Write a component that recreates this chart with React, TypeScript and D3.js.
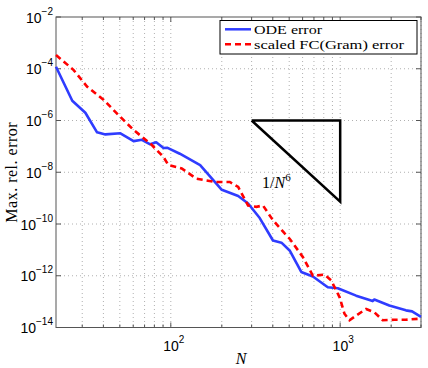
import React, { useEffect, useRef } from "react";
import { select, scaleLog, line } from "d3";

// ODE error curve
const odeN = [21, 26.2, 31.3, 36.7, 41.1, 50.4, 60.3, 67.5, 75.6, 82, 90.5, 95, 113, 149, 200, 250, 286, 335, 401, 450, 503, 589, 690, 845, 968, 1242, 1555, 1590, 1950, 2443, 2657, 3000];
const odeErr = [1.2e-4, 5.8e-6, 2.0e-6, 3.5e-7, 2.9e-7, 3.2e-7, 1.6e-7, 1.8e-7, 1.2e-7, 1.45e-7, 8.7e-8, 8.9e-8, 5.2e-8, 1.9e-8, 2.1e-9, 1.2e-9, 6.2e-10, 1.7e-10, 2.3e-11, 1.9e-11, 9.5e-12, 1.4e-12, 9.3e-13, 3.6e-13, 3.3e-13, 1.7e-13, 1.05e-13, 1.2e-13, 7.1e-14, 4.6e-14, 4.2e-14, 2.6e-14];

// scaled FC(Gram) error curve
const fcN = [21, 26.7, 32.1, 40.2, 49.2, 60.3, 75.6, 90.5, 96.8, 116, 142, 182, 223, 250, 286, 320, 350, 401, 470, 503, 603, 690, 809, 885, 991, 1060, 1135, 1242, 1422, 1590, 1783, 2090, 2443, 3000];
const fcErr = [3.4e-4, 8.9e-5, 2.0e-5, 6.2e-6, 1.6e-6, 4.3e-7, 1.3e-7, 3.9e-8, 1.9e-8, 1.4e-8, 5.6e-9, 4.2e-9, 4.2e-9, 2.7e-9, 5.2e-10, 4.6e-10, 5.2e-10, 1.4e-10, 4.3e-11, 2.7e-11, 5.2e-12, 1.0e-12, 1.1e-12, 6.6e-13, 1.5e-13, 3.4e-14, 1.9e-14, 2.9e-14, 5.2e-14, 3.9e-14, 1.9e-14, 2.0e-14, 2.0e-14, 2.2e-14];

// slope triangle 1/N^6
const triN = [300, 1000];
const triErr = [1e-6, 7.29e-10];

const xMajor = [100, 1000];
const xMajorExp = ["2", "3"];
const xMinor = [30, 40, 50, 60, 70, 80, 90, 200, 300, 400, 500, 600, 700, 800, 900, 2000, 3000];
const yMajor = [1e-2, 1e-4, 1e-6, 1e-8, 1e-10, 1e-12, 1e-14];
const yMajorExp = ["\u22122", "\u22124", "\u22126", "\u22128", "\u221210", "\u221212", "\u221214"];

const legendLabels = ["ODE error", "scaled FC(Gram) error"];
const legendWidths = [68, 150];

export default function App() {
  const svgRef = useRef(null);

  useEffect(() => {
    const svg = select(svgRef.current);
    svg.selectAll("*").remove();

    const left = 56, right = 421, top = 17, bottom = 327.5;
    const x = scaleLog().domain([21, 3000]).range([left, right]);
    const y = scaleLog().domain([1e-14, 1e-2]).range([bottom, top]);

    const axisColor = "#555";
    const gridColor = "#b0b0b0";
    const tickFont = "'Liberation Sans', Arial, sans-serif";
    const serif = "'Liberation Serif', 'Times New Roman', serif";

    // grid
    const grid = svg.append("g");
    [...xMinor, ...xMajor].forEach((v) => {
      grid.append("line")
        .attr("x1", x(v)).attr("x2", x(v))
        .attr("y1", top).attr("y2", bottom)
        .attr("stroke", gridColor).attr("stroke-width", 1)
        .attr("stroke-dasharray", "1,3");
    });
    yMajor.slice(1, -1).forEach((v) => {
      grid.append("line")
        .attr("x1", left).attr("x2", right)
        .attr("y1", y(v)).attr("y2", y(v))
        .attr("stroke", gridColor).attr("stroke-width", 1)
        .attr("stroke-dasharray", "1,3");
    });

    // ticks (inside, mirrored)
    const ticks = svg.append("g").attr("stroke", axisColor).attr("stroke-width", 1);
    xMinor.forEach((v) => {
      ticks.append("line").attr("x1", x(v)).attr("x2", x(v)).attr("y1", bottom).attr("y2", bottom - 3);
      ticks.append("line").attr("x1", x(v)).attr("x2", x(v)).attr("y1", top).attr("y2", top + 3);
    });
    xMajor.forEach((v) => {
      ticks.append("line").attr("x1", x(v)).attr("x2", x(v)).attr("y1", bottom).attr("y2", bottom - 5);
      ticks.append("line").attr("x1", x(v)).attr("x2", x(v)).attr("y1", top).attr("y2", top + 5);
    });
    yMajor.forEach((v) => {
      ticks.append("line").attr("x1", left).attr("x2", left + 5).attr("y1", y(v)).attr("y2", y(v));
      ticks.append("line").attr("x1", right).attr("x2", right - 5).attr("y1", y(v)).attr("y2", y(v));
    });

    // box
    svg.append("rect")
      .attr("x", left).attr("y", top)
      .attr("width", right - left).attr("height", bottom - top)
      .attr("fill", "none").attr("stroke", axisColor).attr("stroke-width", 1);

    // tick labels
    yMajor.forEach((v, i) => {
      const t = svg.append("text")
        .attr("x", 53).attr("y", y(v) + 5.5)
        .attr("text-anchor", "end")
        .attr("font-family", tickFont).attr("font-size", 14).attr("fill", "#000");
      t.append("tspan").text("10");
      t.append("tspan").attr("dy", -8).attr("font-size", 10).text(yMajorExp[i]);
    });
    xMajor.forEach((v, i) => {
      const t = svg.append("text")
        .attr("x", x(v) + 3).attr("y", 351)
        .attr("text-anchor", "middle")
        .attr("font-family", tickFont).attr("font-size", 14).attr("fill", "#000");
      t.append("tspan").text("10");
      t.append("tspan").attr("dy", -8).attr("font-size", 10).text(xMajorExp[i]);
    });

    // axis labels
    svg.append("text")
      .attr("x", 241).attr("y", 364)
      .attr("text-anchor", "middle")
      .attr("font-family", serif).attr("font-style", "italic").attr("font-size", 16)
      .text("N");
    svg.append("text")
      .attr("transform", `translate(17, ${(top + bottom) / 2}) rotate(-90)`)
      .attr("text-anchor", "middle")
      .attr("font-family", serif).attr("font-size", 16)
      .attr("letter-spacing", 0.5)
      .text("Max. rel. error");

    // curves
    const path = line().x((d) => x(d[0])).y((d) => y(d[1]));
    svg.append("path")
      .attr("d", path(odeN.map((n, i) => [n, odeErr[i]])))
      .attr("fill", "none").attr("stroke", "#2f3cff").attr("stroke-width", 2.6)
      .attr("stroke-linejoin", "round");
    svg.append("path")
      .attr("d", path(fcN.map((n, i) => [n, fcErr[i]])))
      .attr("fill", "none").attr("stroke", "#ff0000").attr("stroke-width", 2.6)
      .attr("stroke-dasharray", "6,4");

    // slope triangle
    const tri = [[triN[0], triErr[0]], [triN[1], triErr[0]], [triN[1], triErr[1]], [triN[0], triErr[0]]];
    svg.append("path")
      .attr("d", path(tri))
      .attr("fill", "none").attr("stroke", "#000").attr("stroke-width", 2.5)
      .attr("stroke-linejoin", "miter");
    const lab = svg.append("text")
      .attr("x", 262).attr("y", 188)
      .attr("font-family", serif).attr("font-size", 16);
    lab.append("tspan").text("1/");
    lab.append("tspan").attr("font-style", "italic").text("N");
    lab.append("tspan").attr("dy", -7).attr("font-size", 11).text("6");

    // legend
    const lg = svg.append("g");
    lg.append("rect")
      .attr("x", 220).attr("y", 20.5).attr("width", 197).attr("height", 33.5)
      .attr("fill", "#fff").attr("stroke", "#000").attr("stroke-width", 1);
    const colors = ["#2f3cff", "#ff0000"];
    const dashes = [null, "6,4"];
    legendLabels.forEach((lbl, i) => {
      const ly = 29.3 + i * 15;
      lg.append("line")
        .attr("x1", 225).attr("x2", 251).attr("y1", ly).attr("y2", ly)
        .attr("stroke", colors[i]).attr("stroke-width", 2.5)
        .attr("stroke-dasharray", dashes[i]);
      lg.append("text")
        .attr("x", 254).attr("y", ly + 4.5)
        .attr("font-family", serif).attr("font-size", 13)
        .attr("textLength", legendWidths[i])
        .attr("lengthAdjust", "spacingAndGlyphs")
        .text(lbl);
    });
  }, []);

  return (
    <svg
      ref={svgRef}
      width={428}
      height={368}
      style={{ position: "absolute", left: 0, top: 0, background: "#fff" }}
    />
  );
}
